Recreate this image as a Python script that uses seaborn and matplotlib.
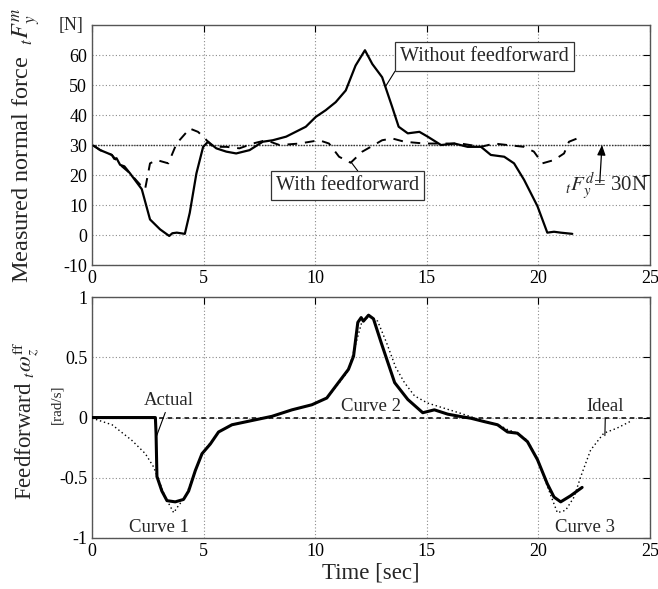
import matplotlib
matplotlib.use("Agg")
import matplotlib.pyplot as plt
import seaborn as sns
import numpy as np

# ---- data: top panel (measured normal force) ----
t_nofb = [0.07, 0.37, 0.6, 0.89, 1.0, 1.1, 1.26, 1.45, 1.7, 2.23, 2.6, 3.05, 3.46, 3.6, 3.8, 4.16,
          4.38, 4.68, 4.98, 5.2, 5.57, 6.02, 6.46, 7.06, 7.65, 8.1, 8.7, 9.58, 10.03, 10.47,
          10.92, 11.37, 11.81, 12.23, 12.56, 13.0, 13.45, 13.74, 14.15, 14.67, 15.04, 15.64,
          16.24, 16.83, 17.43, 17.87, 18.47, 18.91, 19.36, 19.66, 19.96, 20.4, 20.7, 21.0, 21.52]
F_nofb = [29.8, 28.3, 27.6, 26.7, 25.4, 25.6, 23.4, 22.9, 20.6, 15.3, 5.2, 1.9, -0.3, 0.6, 0.8, 0.4,
          7.4, 20.6, 29.4, 31.1, 28.9, 27.8, 27.2, 28.3, 31.1, 31.6, 32.8, 36.1, 39.4, 41.6,
          44.3, 48.2, 56.5, 61.6, 57.0, 52.6, 42.7, 36.1, 33.9, 34.4, 32.8, 30.0,
          30.5, 29.4, 29.4, 26.7, 26.1, 23.9, 18.4, 14.0, 9.6, 0.8, 1.1, 0.8, 0.4]

t_fb = [0.07, 0.37, 0.89, 1.26, 1.7, 2.23, 2.38, 2.6, 2.9, 3.42, 3.79, 4.38, 4.75, 4.98, 5.42,
        6.02, 6.61, 7.2, 7.8, 8.4, 9.29, 10.18, 10.62, 11.07, 11.59, 12.11, 12.56, 13.0, 13.45,
        14.0, 14.9, 15.64, 16.53, 17.43, 18.02, 18.62, 19.36, 19.8, 20.18, 20.7, 21.15, 21.37, 21.74]
F_fb = [29.8, 28.3, 26.7, 23.4, 20.6, 16.2, 15.3, 23.9, 25.0, 23.9, 30.5, 35.5, 34.4, 32.8, 29.4,
        29.4, 28.9, 30.5, 31.6, 30.0, 30.5, 31.6, 30.5, 26.1, 24.1, 27.8, 29.7, 31.6, 32.2,
        31.1, 30.5, 30.5, 30.5, 29.4, 30.5, 30.0, 29.4, 27.8, 23.9, 25.0, 27.2, 31.1, 32.2]

F_desired = 30

# ---- data: bottom panel (feedforward angular velocity) ----
t_act = [0, 2.84, 2.87, 2.91, 3.13, 3.36, 3.73, 4.1, 4.33, 4.63, 4.93, 5.3, 5.67, 6.27, 7.16,
         8.06, 8.96, 9.85, 10.52, 11.04, 11.49, 11.72, 11.91, 12.06, 12.16, 12.39, 12.61, 12.96,
         13.56, 14.15, 14.82, 15.34, 15.94, 16.53, 16.98, 17.58, 18.17, 18.62, 19.06, 19.51,
         19.96, 20.4, 20.7, 21.0, 21.44, 21.96]
w_act = [0, 0, -0.13, -0.49, -0.61, -0.69, -0.70, -0.68, -0.61, -0.44, -0.30, -0.22, -0.12, -0.06,
         -0.025, 0.01, 0.064, 0.106, 0.162, 0.29, 0.40, 0.51, 0.79, 0.83, 0.80, 0.85, 0.82, 0.62,
         0.29, 0.15, 0.04, 0.064, 0.028, 0.008, -0.006, -0.034, -0.06, -0.12, -0.13, -0.2,
         -0.35, -0.55, -0.66, -0.70, -0.65, -0.58]

t_ideal = [0, 0.9, 1.79, 2.39, 2.76, 2.99, 3.28, 3.66, 3.88, 4.18, 4.48, 4.93, 5.3, 5.67, 6.27,
           7.16, 8.06, 8.96, 9.85, 10.52, 11.04, 11.49, 11.8, 12.1, 12.45, 12.8, 13.2, 13.6, 14.0,
           14.45, 15.04, 16.5, 17.58, 18.17, 18.62, 19.06, 19.51, 19.96, 20.4, 20.85, 21.22,
           21.6, 21.9, 22.34, 22.93, 23.5, 24.1]
w_ideal = [-0.005, -0.06, -0.19, -0.3, -0.41, -0.52, -0.66, -0.79, -0.73, -0.66, -0.52, -0.30,
           -0.21, -0.12, -0.06, -0.025, 0.01, 0.064, 0.106, 0.162, 0.28, 0.39, 0.6, 0.8, 0.84,
           0.8, 0.62, 0.42, 0.29, 0.18, 0.12, 0.036, -0.03, -0.055, -0.1, -0.13, -0.19, -0.34,
           -0.57, -0.79, -0.77, -0.66, -0.49, -0.27, -0.13, -0.09, -0.034]

x_ticks = [0, 5, 10, 15, 20, 25]
top_yticks = [-10, 0, 10, 20, 30, 40, 50, 60]
bot_yticks = [-1, -0.5, 0, 0.5, 1]
bot_yticklabels = ["-1", "-0.5", "0", "0.5", "1"]

# ---- style ----
sns.set_style("white")
plt.rcParams["font.family"] = ["Liberation Serif", "DejaVu Serif"]
plt.rcParams["mathtext.fontset"] = "stix"
plt.rcParams["xtick.direction"] = "in"
plt.rcParams["ytick.direction"] = "in"

fig = plt.figure(figsize=(6.58, 5.89), dpi=100)
ax1 = fig.add_axes([0.1398, 0.550, 0.848, 0.4075])
ax2 = fig.add_axes([0.1398, 0.0866, 0.848, 0.409])

spine_col = "#555555"
grid_kw = dict(color="#8a8a8a", linestyle=(0, (1, 2)), linewidth=0.8)

for ax in (ax1, ax2):
    for s in ax.spines.values():
        s.set_color(spine_col)
        s.set_linewidth(1.0)
    ax.tick_params(axis="both", which="both", direction="in", length=5, width=0.8,
                   colors="black", labelsize=13, top=True, right=True)
    for t in ax.get_xticklines() + ax.get_yticklines():
        t.set_color(spine_col)
    ax.set_xlim(0, 25)
    ax.set_xticks(x_ticks)
    ax.set_xticklabels([str(v) for v in x_ticks])
    ax.grid(True, **grid_kw)
    ax.set_axisbelow(True)

# ---- top panel ----
ax1.set_ylim(-10, 70)
ax1.set_yticks(top_yticks)
ax1.set_yticklabels([str(v) for v in top_yticks])
ax1.axhline(F_desired, color="#333333", linestyle=(0, (1, 1)), linewidth=1.0, zorder=2)
sns.lineplot(x=t_nofb, y=F_nofb, ax=ax1, color="black", linewidth=1.6, sort=False,
             estimator=None, zorder=4)
sns.lineplot(x=t_fb, y=F_fb, ax=ax1, color="black", linewidth=1.4, sort=False,
             estimator=None, linestyle=(0, (5, 4)), zorder=3)
ax1.set_xlabel("")
ax1.set_ylabel("")

box = dict(boxstyle="square,pad=0.25", facecolor="white", edgecolor="#333333", linewidth=0.9)
ax1.annotate("Without feedforward", xy=(13.15, 49.5), xytext=(17.6, 59.4),
             fontsize=14.5, ha="center", va="center", bbox=box,
             arrowprops=dict(arrowstyle="-", color="black", lw=0.8, shrinkA=0, shrinkB=0,
                             relpos=(0.0, 0.2)))
ax1.annotate("With feedforward", xy=(11.6, 24.4), xytext=(11.45, 16.4),
             fontsize=14.5, ha="center", va="center", bbox=box,
             arrowprops=dict(arrowstyle="-", color="black", lw=0.8, shrinkA=0, shrinkB=0,
                             relpos=(0.6, 1.0)))
ax1.annotate("", xy=(22.85, 30), xytext=(22.75, 17.5),
             arrowprops=dict(arrowstyle="-|>,head_length=0.6,head_width=0.25", color="black",
                             lw=0.9, shrinkA=0, shrinkB=0))
ax1.text(23.05, 16.3, r"$_{t}F_{y}^{d}$= 30N", fontsize=15, ha="center", va="center")
ax1.text(-0.038, 1.0, "[N]", transform=ax1.transAxes, fontsize=13, ha="center", va="center")

fig.text(27 / 658, 1 - 145 / 589, r"Measured normal force  $_{t}F_{y}^{m}$", rotation=90,
         fontsize=17.5, ha="center", va="center")

# ---- bottom panel ----
ax2.set_ylim(-1, 1)
ax2.set_yticks(bot_yticks)
ax2.set_yticklabels(bot_yticklabels)
ax2.axhline(0, color="black", linestyle=(0, (3, 2.5)), linewidth=1.1, zorder=2)
sns.lineplot(x=t_ideal, y=w_ideal, ax=ax2, color="black", linewidth=1.0, sort=False,
             estimator=None, linestyle=(0, (1, 2)), zorder=3)
sns.lineplot(x=t_act, y=w_act, ax=ax2, color="black", linewidth=2.2, sort=False,
             estimator=None, zorder=4)
ax2.set_ylabel("")
ax2.set_xlabel("Time [sec]", fontsize=16.5, labelpad=2)

arr = dict(arrowstyle="-", color="black", lw=0.8, shrinkA=0, shrinkB=0)
ax2.annotate("Actual", xy=(2.9, -0.15), xytext=(3.45, 0.14), fontsize=13.5,
             ha="center", va="center", arrowprops=dict(arr, relpos=(0.45, 0.0)))
ax2.text(2.99, -0.91, "Curve 1", fontsize=13.5, ha="center", va="center")
ax2.text(12.5, 0.09, "Curve 2", fontsize=13.5, ha="center", va="center")
ax2.text(22.1, -0.91, "Curve 3", fontsize=13.5, ha="center", va="center")
ax2.annotate("Ideal", xy=(22.98, -0.15), xytext=(23.0, 0.09), fontsize=13.5,
             ha="center", va="center", arrowprops=dict(arr, relpos=(0.5, 0.0)))

fig.text(26 / 658, 1 - 421 / 589, r"Feedforward $_{t}\omega_{z}^{\mathrm{ff}}$", rotation=90,
         fontsize=16.5, ha="center", va="center")
fig.text(57 / 658, 1 - 404 / 589, "[rad/s]", rotation=90, fontsize=11,
         ha="center", va="center")

fig.savefig("out.png", dpi=100)
